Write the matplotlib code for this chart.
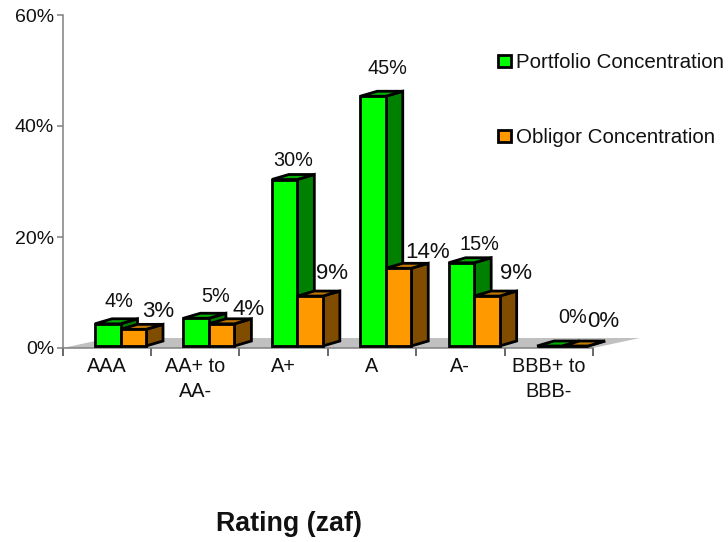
import numpy as np
import matplotlib
matplotlib.use('Agg')
import matplotlib.pyplot as plt
from matplotlib.patches import Polygon, Rectangle

plt.rcParams['font.family'] = ['Liberation Sans', 'DejaVu Sans']

ratings = ['AAA', 'AA+ to\nAA-', 'A+', 'A', 'A-', 'BBB+ to\nBBB-']
portfolio = [4, 5, 30, 45, 15, 0]
obligor = [3, 4, 9, 14, 9, 0]
yticks = [0, 20, 40, 60]

W, H = 728, 542
left, right, top, base = 62.5, 593.0, 15.0, 348.0

fig = plt.figure(figsize=(W / 100, H / 100), dpi=100)
ax = fig.add_axes([left / W, 1 - base / H, (right - left) / W, (base - top) / H])
ax.set_xlim(0, 6)
ax.set_ylim(0, 60)
ax.patch.set_alpha(0)

# px to data units
xu = 6 / (right - left)
yu = 60 / (base - top)
depth_x, depth_y = 17 * xu, 5 * yu
bar_w = 25.5 * xu
bar_off = 32.5 * xu
y0 = 2 * yu
lw = 2.0


def box(x, val, front, side, lid):
    y1 = y0 + val
    dx, dy = depth_x, depth_y
    faces = [
        ([(x + bar_w, y0), (x + bar_w + dx, y0 + dy), (x + bar_w + dx, y1 + dy), (x + bar_w, y1)], side),
        ([(x, y1), (x + dx, y1 + dy), (x + bar_w + dx, y1 + dy), (x + bar_w, y1)], lid),
        ([(x, y0), (x + bar_w, y0), (x + bar_w, y1), (x, y1)], front),
    ]
    for pts, c in faces:
        ax.add_patch(Polygon(pts, closed=True, facecolor=c, edgecolor='black', lw=lw,
                             joinstyle='miter', clip_on=False, zorder=3))


# floor of the 3d box
floor = Polygon([(0, 0), (6, 0), (6 + 47 * xu, 10 * yu), (47 * xu, 10 * yu)], closed=True,
                facecolor='#c0c0c0', edgecolor='none', clip_on=False, zorder=1)
ax.add_patch(floor)

for i in range(len(ratings)):
    x = i + bar_off
    box(x, portfolio[i], '#00ff00', '#008000', '#00b000')
    box(x + bar_w, obligor[i], '#ff9900', '#804d00', '#c07800')

# value labels, nudged by hand in px from the top of each bar
green_nudge = [(11, 13), (19, 12), (9, 10), (14, 18), (18, 9), (23, 19)]
orange_nudge = [(25, 7), (27, 4), (22, 12), (29, 5), (29, 12), (28, 14)]
for i in range(len(ratings)):
    x = i + bar_off
    ax.annotate('%d%%' % portfolio[i], (x + bar_w / 2, y0 + portfolio[i]), xytext=green_nudge[i],
                textcoords='offset pixels', ha='center', va='bottom', fontsize=14.3, color='#111111',
                annotation_clip=False, zorder=5)
    ax.annotate('%d%%' % obligor[i], (x + bar_w * 1.5, y0 + obligor[i]), xytext=orange_nudge[i],
                textcoords='offset pixels', ha='center', va='bottom', fontsize=16, color='#111111',
                annotation_clip=False, zorder=5)

for s in ['top', 'right']:
    ax.spines[s].set_visible(False)
for s in ['left', 'bottom']:
    ax.spines[s].set_color('#808080')
    ax.spines[s].set_linewidth(1.1)
    ax.spines[s].set_zorder(2)

ax.set_yticks(yticks)
ax.set_yticklabels(['%d%%' % v for v in yticks], fontsize=14, color='#111111')
ax.tick_params(axis='y', length=4, width=1.1, color='#808080', pad=2)

ax.set_xticks(range(7))
ax.set_xticklabels([])
ax.tick_params(axis='x', which='major', length=6, width=1.1, color='#404040')
ax.set_xticks(np.arange(6) + 0.5, minor=True)
ax.set_xticklabels(ratings, minor=True, fontsize=14.3, color='#111111', linespacing=1.4)
ax.tick_params(axis='x', which='minor', length=0, pad=6.5)


def fx(px):
    return px / W


def fy(px):
    return 1 - px / H


# legend keys and labels
for yp, c, name in [(61, '#00ff00', 'Portfolio Concentration'), (136, '#ff9900', 'Obligor Concentration')]:
    fig.add_artist(Rectangle((fx(498), fy(yp + 6)), 12.5 / W, 12.5 / H, transform=fig.transFigure,
                             facecolor=c, edgecolor='black', lw=2))
    fig.text(fx(516), fy(yp + 1.5), name, fontsize=14.75, color='#111111', va='center', ha='left')

fig.text(fx(289), fy(524), 'Rating (zaf)', fontsize=19.3, fontweight='bold', color='#111111',
         ha='center', va='center')

fig.savefig('out.png', dpi=100)
